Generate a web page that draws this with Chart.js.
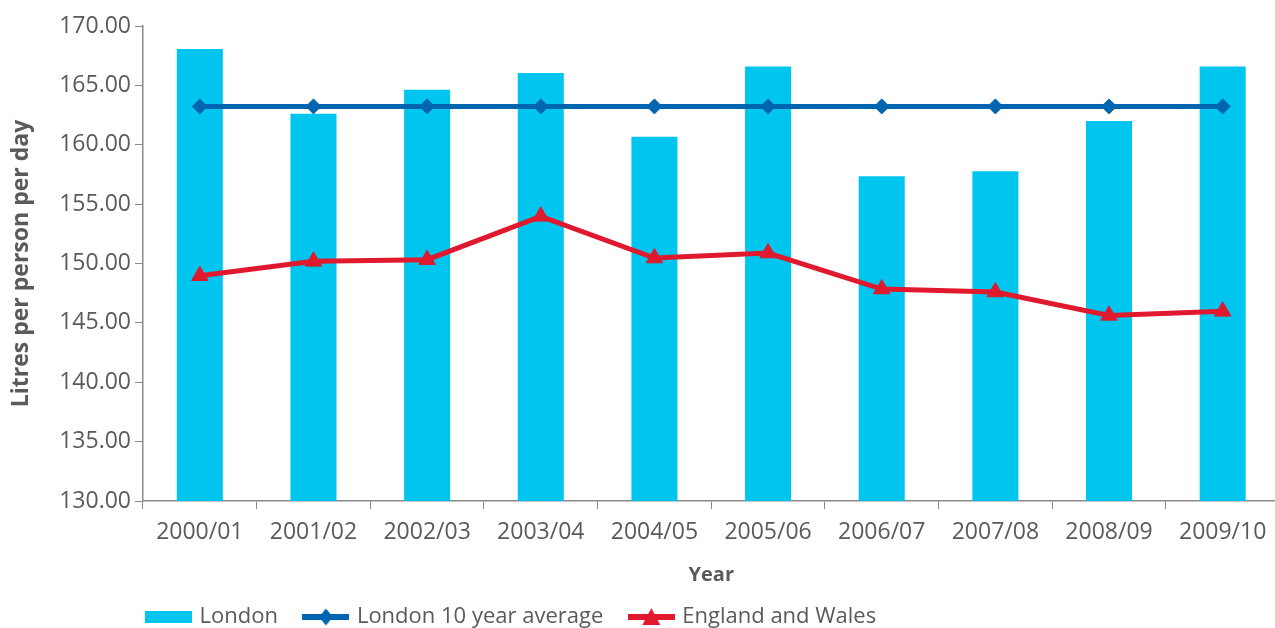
<!DOCTYPE html>
<html>
<head>
<meta charset="utf-8">
<script src="https://cdn.jsdelivr.net/npm/chart.js@4.4.1/dist/chart.umd.min.js"></script>
<style>
body { margin: 0; overflow: hidden; background: #fff; }
#wrap { position: absolute; left: 0; top: 0; }
</style>
</head>
<body>
<div id="wrap"><canvas id="usage" width="1290" height="638"></canvas></div>
<script>
var years = ['2000/01', '2001/02', '2002/03', '2003/04', '2004/05',
	     '2005/06', '2006/07', '2007/08', '2008/09', '2009/10'];
var london = [168.06, 162.61, 164.64, 166.04, 160.68, 166.60, 157.34, 157.76, 162.00, 166.60];
var london_avg = [163.23, 163.23, 163.23, 163.23, 163.23, 163.23, 163.23, 163.23, 163.23, 163.23];
var eng_wales = [148.97, 150.18, 150.32, 153.97, 150.46, 150.88, 147.85, 147.60, 145.63, 145.97];
var y_min = 130, y_max = 170, y_step = 5;

var cyan = '#00c5ee';
var blue = '#0065b0';
var red = '#e0192e';
var text_col = '#5a5a5a';
var axis_col = '#8a8a8a';
var font_name = '"Open Sans", "Noto Sans", sans-serif';

// small legend icons: line with its marker, or a plain bar swatch
function make_icon(kind, color)
{
    var c = document.createElement('canvas');
    c.width = 47;
    c.height = kind == 'bar' ? 12 : 20;
    var ctx = c.getContext('2d');
    ctx.fillStyle = color;
    if (kind == 'bar') {
	ctx.fillRect(0, 0, 47, 12);
	return c;
    }
    ctx.fillRect(0, 7, 47, 6);
    ctx.beginPath();
    if (kind == 'diamond') {
	ctx.moveTo(23.5, 1.5);
	ctx.lineTo(30.5, 10);
	ctx.lineTo(23.5, 18.5);
	ctx.lineTo(16.5, 10);
    } else {
	ctx.moveTo(23.5, 1);
	ctx.lineTo(32.5, 18);
	ctx.lineTo(14.5, 18);
    }
    ctx.closePath();
    ctx.fill();
    return c;
}

var icons = [make_icon('bar', cyan), make_icon('diamond', blue), make_icon('triangle', red)];

// push the legend row over so it lines up under the plot
var legend_shift = {
    id: 'legend_shift',
    afterLayout: function(chart) {
	chart.legend.left = 120.5;
    }
};

const ctx = document.getElementById('usage');

new Chart(ctx, {
    data: {
	labels: years,
	datasets: [{
	    type: 'bar',
	    label: 'London',
	    data: london,
	    backgroundColor: cyan,
	    categoryPercentage: 1,
	    barPercentage: 0.405,
	    order: 3
	}, {
	    type: 'line',
	    label: 'London 10 year average',
	    data: london_avg,
	    borderColor: blue,
	    backgroundColor: blue,
	    borderWidth: 5,
	    tension: 0,
	    pointStyle: 'rectRot',
	    pointRadius: 7.5,
	    pointBorderWidth: 1,
	    order: 2
	}, {
	    type: 'line',
	    label: 'England and Wales',
	    data: eng_wales,
	    borderColor: red,
	    backgroundColor: red,
	    borderWidth: 5,
	    tension: 0,
	    pointStyle: 'triangle',
	    pointRadius: 9.5,
	    pointBorderWidth: 1,
	    order: 1
	}]
    },
    options: {
	responsive: false,
	animation: false,
	devicePixelRatio: 1,
	layout: {
	    padding: { top: 26, right: 9, bottom: 0, left: 0 }
	},
	scales: {
	    x: {
		grid: {
		    display: true,
		    drawOnChartArea: false,
		    drawTicks: true,
		    tickLength: 8,
		    color: axis_col,
		    offset: true
		},
		border: { color: axis_col, width: 1.5 },
		ticks: {
		    color: text_col,
		    font: { family: font_name, size: 23 },
		    padding: 10,
		    maxRotation: 0,
		    autoSkip: false
		},
		title: {
		    display: true,
		    text: 'Year',
		    color: text_col,
		    font: { family: font_name, size: 20, weight: 'bold' },
		    padding: { top: 0, bottom: -9 }
		},
		afterFit: function(scale) { scale.height = 77; }
	    },
	    y: {
		min: y_min,
		max: y_max,
		grid: {
		    display: true,
		    drawOnChartArea: false,
		    drawTicks: true,
		    tickLength: 8,
		    color: axis_col
		},
		border: { color: axis_col, width: 1.5 },
		ticks: {
		    stepSize: y_step,
		    color: text_col,
		    font: { family: font_name, size: 23 },
		    padding: 4,
		    callback: function(v) { return v.toFixed(2); }
		},
		title: {
		    display: true,
		    text: 'Litres per person per day',
		    color: text_col,
		    font: { family: font_name, size: 23, weight: 'bold' },
		    padding: { top: 8, bottom: 0 }
		},
		afterFit: function(scale) { scale.width = 143; }
	    }
	},
	plugins: {
	    tooltip: { enabled: false },
	    legend: {
		position: 'bottom',
		align: 'start',
		labels: {
		    usePointStyle: true,
		    pointStyleWidth: 40,
		    padding: 28,
		    color: text_col,
		    font: { family: font_name, size: 22 },
		    sort: function(a, b) { return a.datasetIndex - b.datasetIndex; },
		    generateLabels: function(chart) {
			var items = Chart.defaults.plugins.legend.labels.generateLabels(chart);
			items.forEach(function(it) {
			    it.pointStyle = icons[it.datasetIndex];
			});
			return items;
		    }
		}
	    }
	}
    },
    plugins: [legend_shift]
});
</script>
</body>
</html>
